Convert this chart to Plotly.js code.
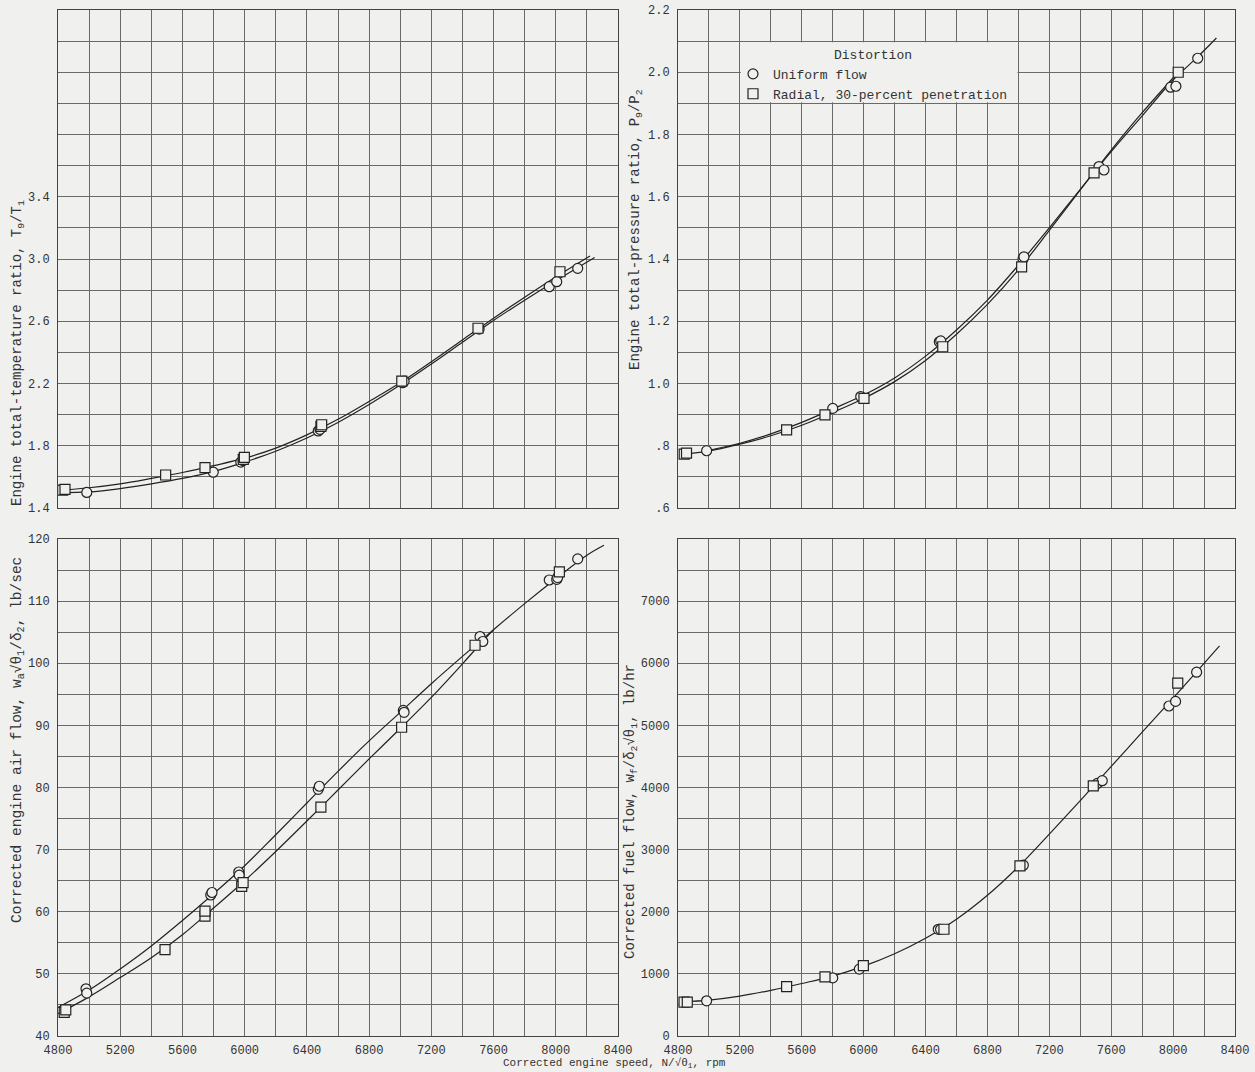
<!DOCTYPE html>
<html>
<head>
<meta charset="utf-8">
<script src="https://cdn.plot.ly/plotly-3.0.1.min.js"></script>
<style>
  html, body { margin: 0; padding: 0; background: #f0f0ee; }
  #chart { width: 1255px; height: 1072px; }
</style>
</head>
<body>
<div id="chart"></div>
<script>
// ---------- Data ----------
// Top-left: engine total-temperature ratio T9/T1
const tempCircleX = [4985, 5798, 5975, 5990, 6473, 6484, 7015, 7025, 7507, 7958, 8006, 8141];
const tempCircleY = [1.50, 1.63, 1.695, 1.705, 1.895, 1.905, 2.205, 2.215, 2.55, 2.822, 2.854, 2.94];
const tempSquareX = [4830, 4845, 5492, 5745, 5991, 5998, 6490, 6495, 7010, 7500, 8027];
const tempSquareY = [1.515, 1.52, 1.612, 1.66, 1.712, 1.725, 1.925, 1.935, 2.215, 2.555, 2.918];
const tempCircleFairX = [4800, 5000, 5200, 5400, 5600, 5800, 6000, 6200, 6400, 6600, 6800, 7000, 7200, 7400, 7600, 7800, 8000, 8250];
const tempCircleFairY = [1.497, 1.503, 1.525, 1.555, 1.59, 1.635, 1.695, 1.765, 1.85, 1.95, 2.065, 2.19, 2.325, 2.465, 2.605, 2.735, 2.86, 3.01];
const tempSquareFairX = [4800, 5000, 5200, 5400, 5600, 5800, 6000, 6200, 6400, 6600, 6800, 7000, 7200, 7400, 7600, 7800, 8000, 8220];
const tempSquareFairY = [1.513, 1.53, 1.555, 1.59, 1.628, 1.672, 1.72, 1.785, 1.87, 1.97, 2.085, 2.205, 2.34, 2.48, 2.62, 2.755, 2.885, 3.02];

// Top-right: engine total-pressure ratio P9/P2
const presCircleX = [4985, 5800, 5981, 6489, 6498, 7030, 7036, 7521, 7553, 7984, 8018, 8159];
const presCircleY = [0.784, 0.920, 0.958, 1.134, 1.137, 1.400, 1.407, 1.697, 1.686, 1.952, 1.955, 2.045];
const presSquareX = [4840, 4855, 5502, 5750, 6002, 6511, 7021, 7489, 8033];
const presSquareY = [0.773, 0.776, 0.851, 0.899, 0.952, 1.118, 1.375, 1.677, 2.0];
const presCircleFairX = [4985, 5200, 5400, 5600, 5800, 6000, 6200, 6400, 6600, 6800, 7000, 7200, 7400, 7600, 7800, 8000, 8160, 8280];
const presCircleFairY = [0.784, 0.808, 0.838, 0.875, 0.918, 0.963, 1.018, 1.088, 1.172, 1.268, 1.38, 1.5, 1.624, 1.745, 1.86, 1.975, 2.05, 2.11];
const presSquareFairX = [4845, 4985, 5200, 5400, 5600, 5800, 6000, 6200, 6400, 6600, 6800, 7000, 7200, 7400, 7600, 7800, 8033];
const presSquareFairY = [0.774, 0.782, 0.805, 0.832, 0.866, 0.907, 0.952, 1.006, 1.074, 1.158, 1.254, 1.365, 1.492, 1.622, 1.75, 1.87, 2.0];

// Bottom-left: corrected engine air flow, lb/sec
const airCircleX = [4980, 4985, 5782, 5790, 5962, 5965, 6473, 6480, 7020, 7025, 7513, 7531, 7958, 8006, 8012, 8141];
const airCircleY = [47.6, 46.9, 62.7, 63.1, 66.4, 65.9, 79.7, 80.2, 92.4, 92.1, 104.3, 103.5, 113.4, 113.5, 113.8, 116.8];
const airSquareX = [4840, 4850, 5488, 5745, 5745, 5981, 5990, 6490, 7009, 7481, 8023];
const airSquareY = [43.8, 44.2, 53.9, 59.3, 60.1, 64.1, 64.7, 76.85, 89.7, 102.9, 114.7];
const airCircleFairX = [4800, 5000, 5200, 5400, 5600, 5800, 6000, 6200, 6400, 6600, 6800, 7000, 7200, 7400, 7600, 7800, 8000, 8200, 8310];
const airCircleFairY = [44.6, 47.4, 50.8, 54.5, 58.6, 62.9, 67.4, 72.4, 77.5, 82.6, 87.5, 92.1, 96.7, 101.1, 105.4, 109.6, 113.6, 117.4, 119.0];
const airSquareFairX = [4800, 5000, 5200, 5400, 5600, 5800, 6000, 6200, 6400, 6600, 6800, 7000, 7200, 7400, 7500, 7600];
const airSquareFairY = [43.6, 46.3, 49.4, 52.6, 56.3, 60.6, 65.0, 69.7, 74.6, 79.6, 84.6, 89.5, 94.5, 99.9, 102.7, 105.4];

// Bottom-right: corrected fuel flow, lb/hr
const fuelCircleX = [4985, 5800, 5972, 6482, 6497, 7032, 7510, 7542, 7973, 8016, 8152];
const fuelCircleY = [567, 935, 1077, 1718, 1718, 2749, 4065, 4110, 5312, 5386, 5856];
const fuelSquareX = [4839, 4860, 5502, 5750, 5998, 6519, 7010, 7484, 8030];
const fuelSquareY = [545, 545, 794, 952, 1134, 1718, 2738, 4025, 5680];
const fuelFairX = [4830, 5000, 5200, 5400, 5600, 5800, 6000, 6200, 6400, 6600, 6800, 7000, 7200, 7400, 7600, 7800, 8000, 8150, 8300];
const fuelFairY = [550, 578, 642, 735, 845, 965, 1125, 1325, 1575, 1880, 2265, 2725, 3250, 3790, 4340, 4890, 5440, 5858, 6280];

// Tick labels
const speedTicks = [4800, 5200, 5600, 6000, 6400, 6800, 7200, 7600, 8000, 8400];
const tempTicks = [1.4, 1.8, 2.2, 2.6, 3.0, 3.4];
const tempTickText = ['1.4', '1.8', '2.2', '2.6', '3.0', '3.4'];
const presTicks = [0.6, 0.8, 1.0, 1.2, 1.4, 1.6, 1.8, 2.0, 2.2];
const presTickText = ['.6', '.8', '1.0', '1.2', '1.4', '1.6', '1.8', '2.0', '2.2'];
const airTicks = [40, 50, 60, 70, 80, 90, 100, 110, 120];
const fuelTicks = [0, 1000, 2000, 3000, 4000, 5000, 6000, 7000];

const seriesNames = ['Uniform flow', 'Radial, 30-percent penetration'];

// ---------- Styling ----------
const BG = '#f0f0ee';
const INK = '#222';
const GRID = '#6a6a6a';
const FONT = '"Liberation Mono", "Courier New", monospace';

function lineTrace(x, y, xa, ya) {
  return { x: x, y: y, xaxis: xa, yaxis: ya, type: 'scatter', mode: 'lines',
    line: { color: INK, width: 1.2, shape: 'spline', smoothing: 1 },
    showlegend: false, hoverinfo: 'skip' };
}
function markerTrace(x, y, xa, ya, symbol, name, showLegend, rank) {
  return { x: x, y: y, xaxis: xa, yaxis: ya, type: 'scatter', mode: 'markers', name: name,
    legendgroup: name, showlegend: showLegend, legendrank: rank,
    marker: { symbol: symbol, size: 10, color: BG, line: { color: INK, width: 1.2 } } };
}

const data = [
  lineTrace(tempCircleFairX, tempCircleFairY, 'x', 'y'),
  lineTrace(tempSquareFairX, tempSquareFairY, 'x', 'y'),
  lineTrace(presCircleFairX, presCircleFairY, 'x2', 'y2'),
  lineTrace(presSquareFairX, presSquareFairY, 'x2', 'y2'),
  lineTrace(airCircleFairX, airCircleFairY, 'x3', 'y3'),
  lineTrace(airSquareFairX, airSquareFairY, 'x3', 'y3'),
  lineTrace(fuelFairX, fuelFairY, 'x4', 'y4'),
  markerTrace(tempCircleX, tempCircleY, 'x', 'y', 'circle', seriesNames[0], false, 1),
  markerTrace(tempSquareX, tempSquareY, 'x', 'y', 'square', seriesNames[1], false, 2),
  markerTrace(presCircleX, presCircleY, 'x2', 'y2', 'circle', seriesNames[0], true, 1),
  markerTrace(presSquareX, presSquareY, 'x2', 'y2', 'square', seriesNames[1], true, 2),
  markerTrace(airCircleX, airCircleY, 'x3', 'y3', 'circle', seriesNames[0], false, 1),
  markerTrace(airSquareX, airSquareY, 'x3', 'y3', 'square', seriesNames[1], false, 2),
  markerTrace(fuelCircleX, fuelCircleY, 'x4', 'y4', 'circle', seriesNames[0], false, 1),
  markerTrace(fuelSquareX, fuelSquareY, 'x4', 'y4', 'square', seriesNames[1], false, 2)
];

const xL = [58 / 1255, 618 / 1255];
const xR = [678 / 1255, 1235 / 1255];
const yT = [1 - 508 / 1072, 1 - 10 / 1072];
const yB = [1 - 1036 / 1072, 1 - 539 / 1072];

function xAxis(domain, anchor, labels) {
  return {
    domain: domain, anchor: anchor, range: [4800, 8400],
    tickmode: 'array', tickvals: speedTicks, showticklabels: labels,
    ticks: '', ticklabelstandoff: 3, showgrid: true, gridcolor: GRID, gridwidth: 1,
    minor: { tickmode: 'linear', tick0: 4800, dtick: 200, showgrid: true, gridcolor: GRID, gridwidth: 1 },
    showline: true, linecolor: '#444', linewidth: 1, mirror: true, zeroline: false,
    tickfont: { family: FONT, size: 12, color: '#333' }, fixedrange: true
  };
}
function yAxis(domain, anchor, range, vals, text, step) {
  return {
    domain: domain, anchor: anchor, range: range,
    tickmode: 'array', tickvals: vals, ticktext: text,
    ticks: '', ticklabelstandoff: 5, showgrid: true, gridcolor: GRID, gridwidth: 1,
    minor: { tickmode: 'linear', tick0: range[0], dtick: step, showgrid: true, gridcolor: GRID, gridwidth: 1 },
    showline: true, linecolor: '#444', linewidth: 1, mirror: true, zeroline: false,
    tickfont: { family: FONT, size: 12, color: '#333' }, fixedrange: true
  };
}

function yTitle(text, x, y, size) {
  return { text: text, xref: 'paper', yref: 'paper', x: x, y: y, textangle: -90,
    showarrow: false, xanchor: 'center', yanchor: 'middle',
    font: { family: FONT, size: size, color: '#333' } };
}

const layout = {
  width: 1255, height: 1072,
  margin: { l: 0, r: 0, t: 0, b: 0 },
  paper_bgcolor: BG, plot_bgcolor: BG,
  font: { family: FONT, size: 12, color: '#333' },
  xaxis: xAxis(xL, 'y', false),
  yaxis: yAxis(yT, 'x', [1.4, 4.6], tempTicks, tempTickText, 0.2),
  xaxis2: xAxis(xR, 'y2', false),
  yaxis2: yAxis(yT, 'x2', [0.6, 2.2], presTicks, presTickText, 0.1),
  xaxis3: xAxis(xL, 'y3', true),
  yaxis3: yAxis(yB, 'x3', [40, 120], airTicks, airTicks.map(String), 5),
  xaxis4: xAxis(xR, 'y4', true),
  yaxis4: yAxis(yB, 'x4', [0, 8000], fuelTicks, fuelTicks.map(String), 500),
  showlegend: true,
  legend: {
    x: 733 / 1255, y: 1 - 42 / 1072, xanchor: 'left', yanchor: 'top',
    bgcolor: 'rgba(0,0,0,0)', borderwidth: 0, tracegroupgap: 0,
    font: { family: FONT, size: 13, color: '#333' },
    title: { text: 'Distortion', side: 'top center', font: { family: FONT, size: 13, color: '#333' } }
  },
  shapes: [
    { type: 'rect', xref: 'x2', yref: 'y2', x0: 5206, x1: 6994, y0: 1.904, y1: 2.096,
      fillcolor: BG, line: { width: 0 }, layer: 'between' }
  ],
  annotations: [
    yTitle('Engine total-temperature ratio, T<sub>9</sub>/T<sub>1</sub>', 18 / 1255, 1 - 353 / 1072, 14),
    yTitle('Engine total-pressure ratio, P<sub>9</sub>/P<sub>2</sub>', 636 / 1255, 1 - 230 / 1072, 14),
    yTitle('Corrected engine air flow, w<sub>a</sub>√θ<sub>1</sub>/δ<sub>2</sub>, lb/sec', 18 / 1255, 1 - 740 / 1072, 14.5),
    yTitle('Corrected fuel flow, w<sub>f</sub>/δ<sub>2</sub>√θ<sub>1</sub>, lb/hr', 631 / 1255, 1 - 812 / 1072, 14),
    { text: 'Corrected engine speed, N/√θ<sub>1</sub>, rpm', xref: 'paper', yref: 'paper',
      x: 614 / 1255, y: 1 - 1063 / 1072, showarrow: false, xanchor: 'center', yanchor: 'middle',
      font: { family: FONT, size: 11, color: '#333' } }
  ]
};

Plotly.newPlot('chart', data, layout, { displayModeBar: false, staticPlot: true });
</script>
</body>
</html>
